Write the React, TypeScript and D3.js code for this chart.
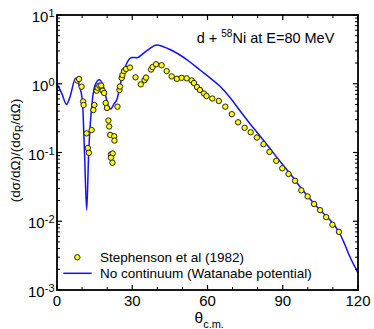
import React from "react";
import * as d3 from "d3";

const thetaExp = [8.1, 8.8, 9.8, 10.4, 10.6, 11.8, 12.3, 12.7, 13.8, 14.5, 14.9, 15.8, 16.2, 16.9, 17.6, 18.2, 18.8, 19.4, 19.9, 20.5, 20.8, 21.2, 22.8, 22.9, 21.5, 22.2, 21.5, 22.1, 24.1, 24.9, 25.1, 25.8, 26.1, 26.7, 27.5, 29.1, 31.3, 33.4, 34.9, 35.5, 37.5, 38.1, 39.5, 41.7, 43.7, 45.7, 47.8, 49.7, 51.7, 53.7, 54.6, 55.8, 57.0, 58.6, 59.6, 61.9, 64.5, 67.1, 69.7, 72.2, 74.8, 77.2, 79.7, 82.3, 84.7, 87.4, 89.8, 92.3, 94.9, 97.4, 99.9, 102.5, 104.9, 107.3, 109.8, 112.4];
const sigmaExp = [1.115, 1.17, 0.906, 0.552, 0.491, 0.19, 0.116, 0.099, 0.212, 0.415, 0.491, 0.792, 0.876, 0.937, 0.943, 0.792, 0.734, 0.525, 0.444, 0.292, 0.239, 0.18, 0.172, 0.149, 0.0935, 0.0967, 0.084, 0.071, 0.464, 0.811, 0.912, 1.212, 1.34, 1.53, 1.64, 1.72, 1.24, 0.98, 1.13, 1.23, 1.61, 1.75, 1.92, 1.86, 1.53, 1.28, 1.18, 1.22, 1.2, 1.115, 1.025, 0.897, 0.811, 0.721, 0.663, 0.61, 0.561, 0.464, 0.361, 0.275, 0.229, 0.197, 0.165, 0.132, 0.102, 0.0757, 0.0589, 0.0487, 0.0388, 0.0282, 0.023, 0.0178, 0.0145, 0.0115, 0.0089, 0.007];

const thetaCalc = [0, 1.9, 3.8, 5.2, 7.4, 8.8, 10.1, 11.0, 11.84, 12.6, 14.1, 15.2, 16.9, 18.7, 20.3, 21.5, 22.7, 23.8, 25.8, 27.5, 29.8, 31.9, 34.4, 37.1, 39.75, 42.4, 45.05, 49.04, 53.02, 57.01, 61.0, 64.98, 68.97, 72.96, 76.94, 80.93, 84.92, 88.9, 92.9, 96.9, 100.9, 104.85, 108.84, 110.83, 112.83, 114.82, 116.81, 118.8, 120];
const sigmaCalc = [0.985, 0.726, 0.5, 0.649, 1.2, 0.96, 0.58, 0.092, 0.0146, 0.092, 0.58, 0.96, 1.14, 0.867, 0.491, 0.43, 0.51, 0.58, 1.2, 1.874, 2.41, 2.39, 2.77, 3.28, 3.66, 3.46, 3.15, 2.62, 2.072, 1.585, 1.22, 0.918, 0.631, 0.404, 0.2616, 0.1738, 0.1143, 0.0745, 0.0495, 0.0318, 0.02107, 0.01458, 0.01043, 0.00853, 0.00652, 0.00452, 0.00302, 0.00216, 0.00177];

const xMajorTicks = [0, 30, 60, 90, 120];
const xMinorTicks = [10, 20, 40, 50, 70, 80, 100, 110];
const yMajorExps = [-3, -2, -1, 0, 1];

const legendExp = "Stephenson et al (1982)";
const legendCalc = "No continuum (Watanabe potential)";

export default function App() {
  const W = 374, H = 329;
  const L = 57, R = 358, T = 15, B = 290;
  const x = d3.scaleLinear().domain([0, 120]).range([L, R]);
  const y = d3.scaleLog().domain([1e-3, 10]).range([B, T]);
  const font = "Liberation Sans, Arial, Helvetica, sans-serif";

  const calcPts = thetaCalc.map((t, i) => [t, sigmaCalc[i]] as [number, number]);
  const line = d3.line<[number, number]>()
    .x(d => x(d[0]))
    .y(d => y(d[1]))
    .curve(d3.curveMonotoneX);

  const yMinor: number[] = [];
  for (let e = -3; e < 1; e++) for (let m = 2; m <= 9; m++) yMinor.push(m * Math.pow(10, e));

  const majLen = 5, minLen = 3;
  const tickStroke = "#000";

  return (
    <svg width={W} height={H} style={{ position: "absolute", left: 0, top: 0, background: "#fff" }} fontFamily={font}>
      <rect x={0} y={0} width={W} height={H} fill="#fff" />
      <path d={line(calcPts) || ""} fill="none" stroke="#1010ff" strokeWidth={1.5} />
      {thetaExp.map((t, i) => (
        <circle key={i} cx={x(t)} cy={y(sigmaExp[i])} r={2.7} fill="#ffff00" stroke="#222" strokeWidth={1} />
      ))}
      <rect x={L} y={T} width={R - L} height={B - T} fill="none" stroke="#000" strokeWidth={1.8} />
      {xMajorTicks.map(t => (
        <g key={"xM" + t}>
          <line x1={x(t)} x2={x(t)} y1={B} y2={B - majLen} stroke={tickStroke} strokeWidth={1.2} />
          <line x1={x(t)} x2={x(t)} y1={T} y2={T + majLen} stroke={tickStroke} strokeWidth={1.2} />
          <text x={x(t)} y={306} fontSize={15} textAnchor="middle">{t}</text>
        </g>
      ))}
      {xMinorTicks.map(t => (
        <g key={"xm" + t}>
          <line x1={x(t)} x2={x(t)} y1={B} y2={B - minLen} stroke={tickStroke} strokeWidth={1} />
          <line x1={x(t)} x2={x(t)} y1={T} y2={T + minLen} stroke={tickStroke} strokeWidth={1} />
        </g>
      ))}
      {yMajorExps.map(e => {
        const v = Math.pow(10, e);
        return (
          <g key={"yM" + e}>
            <line x1={L} x2={L + majLen} y1={y(v)} y2={y(v)} stroke={tickStroke} strokeWidth={1.2} />
            <line x1={R} x2={R - majLen} y1={y(v)} y2={y(v)} stroke={tickStroke} strokeWidth={1.2} />
            <text x={54.5} y={y(v) + 7} fontSize={15} textAnchor="end">
              10<tspan fontSize={11} dy={-5}>{e < 0 ? "-" + Math.abs(e) : String(e)}</tspan>
            </text>
          </g>
        );
      })}
      {yMinor.map((v, i) => (
        <g key={"ym" + i}>
          <line x1={L} x2={L + minLen} y1={y(v)} y2={y(v)} stroke={tickStroke} strokeWidth={1} />
          <line x1={R} x2={R - minLen} y1={y(v)} y2={y(v)} stroke={tickStroke} strokeWidth={1} />
        </g>
      ))}
      <text x={194.5} y={323} fontSize={15.5}>
        θ<tspan fontSize={11} dy={5}>c.m.</tspan>
      </text>
      <text transform="translate(20,150.5) rotate(-90)" fontSize={13.5} textAnchor="middle">
        (dσ/dΩ)/(dσ<tspan fontSize={10} dy={3}>R</tspan><tspan dy={-3}>/dΩ)</tspan>
      </text>
      <text x={196.7} y={43} fontSize={14.5}>
        d + <tspan fontSize={10} dy={-6}>58</tspan><tspan dy={6}>Ni at E=80 MeV</tspan>
      </text>
      <circle cx={77.3} cy={257.3} r={2.7} fill="#ffff00" stroke="#222" strokeWidth={1} />
      <text x={100} y={262} fontSize={13.5}>{legendExp}</text>
      <line x1={63.3} x2={91.7} y1={273.3} y2={273.3} stroke="#1010ff" strokeWidth={1.5} />
      <text x={100} y={278} fontSize={13.5}>{legendCalc}</text>
    </svg>
  );
}
